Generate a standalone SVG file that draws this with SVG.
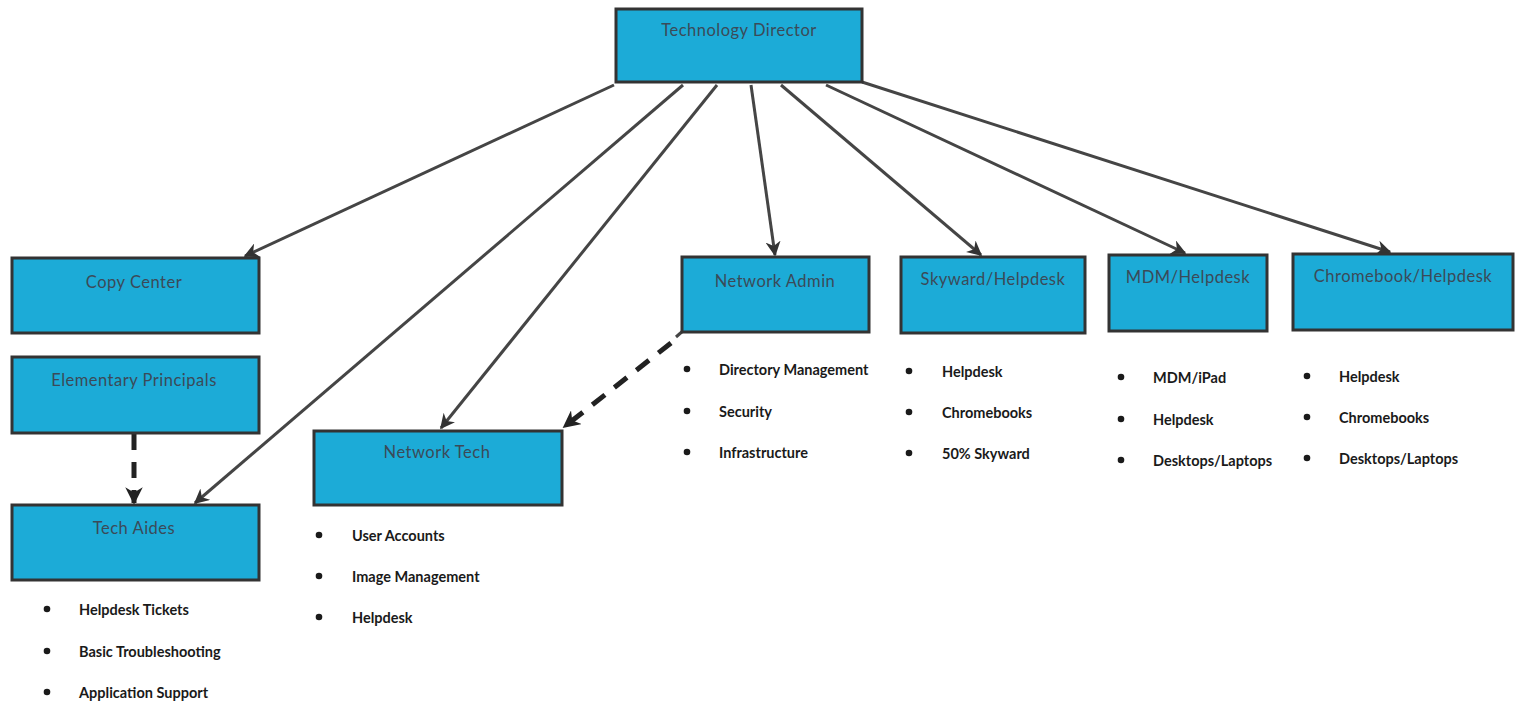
<svg xmlns="http://www.w3.org/2000/svg" width="1522" height="707" viewBox="0 0 1522 707">
<style>
.box{fill:#1cabd7;stroke:#333;stroke-width:3}
.lbl{font-family:Lato,"Liberation Sans",sans-serif;font-size:16.5px;letter-spacing:0.5px;fill:#3b4a58;text-anchor:middle;dominant-baseline:central}
.item{font-family:Lato,"Liberation Sans",sans-serif;font-size:14.5px;font-weight:bold;fill:#1a1a1a;dominant-baseline:central}
.dot{fill:#1a1a1a}
.ln{stroke:#454545;stroke-width:3;fill:none}
.dash{stroke:#222;stroke-width:5;stroke-dasharray:16 12;fill:none}
</style>
<defs>
<marker id="ah" viewBox="0 0 10 10" refX="9" refY="5" markerWidth="5" markerHeight="5" orient="auto" markerUnits="strokeWidth">
<path d="M0,0 L10,5 L0,10 L3,5 z" fill="#333"/>
</marker>
<marker id="ahd" viewBox="0 0 10 10" refX="9" refY="5" markerWidth="3.5" markerHeight="3.5" orient="auto" markerUnits="strokeWidth">
<path d="M0,0 L10,5 L0,10 L3,5 z" fill="#222"/>
</marker>
</defs>
<rect width="1522" height="707" fill="#fff"/>
<g id="connectors">
<line class="ln" x1="614" y1="85" x2="245" y2="256" marker-end="url(#ah)"/>
<line class="ln" x1="683" y1="85" x2="195" y2="503" marker-end="url(#ah)"/>
<line class="ln" x1="717" y1="85" x2="441" y2="428" marker-end="url(#ah)"/>
<line class="ln" x1="751" y1="85" x2="775" y2="255" marker-end="url(#ah)"/>
<line class="ln" x1="781" y1="85" x2="981" y2="255" marker-end="url(#ah)"/>
<line class="ln" x1="826" y1="85" x2="1185" y2="253" marker-end="url(#ah)"/>
<line class="ln" x1="862" y1="82" x2="1390" y2="252" marker-end="url(#ah)"/>
<line class="ln" x1="684" y1="330" x2="676" y2="337"/>
<line class="dash" x1="671" y1="343" x2="564" y2="427" marker-end="url(#ahd)"/>
<line class="dash" x1="134" y1="434" x2="134" y2="503" marker-end="url(#ahd)"/>
</g>
<g id="technology-director">
<rect class="box" x="616" y="9" width="246" height="73"/>
<text class="lbl" x="739" y="30">Technology Director</text>
</g>
<g id="copy-center">
<rect class="box" x="12" y="258" width="247" height="75"/>
<text class="lbl" x="134" y="282">Copy Center</text>
</g>
<g id="elementary-principals">
<rect class="box" x="12" y="357" width="247" height="76"/>
<text class="lbl" x="134" y="380">Elementary Principals</text>
</g>
<g id="tech-aides">
<rect class="box" x="12" y="505" width="247" height="75"/>
<text class="lbl" x="134" y="528">Tech Aides</text>
<circle class="dot" cx="47" cy="609" r="3.3"/><text class="item" x="79" y="609">Helpdesk Tickets</text>
<circle class="dot" cx="47" cy="651" r="3.3"/><text class="item" x="79" y="651">Basic Troubleshooting</text>
<circle class="dot" cx="47" cy="692" r="3.3"/><text class="item" x="79" y="692">Application Support</text>
</g>
<g id="network-tech">
<rect class="box" x="314" y="431" width="248" height="74"/>
<text class="lbl" x="437" y="452">Network Tech</text>
<circle class="dot" cx="319" cy="535" r="3.3"/><text class="item" x="352" y="535">User Accounts</text>
<circle class="dot" cx="319" cy="576" r="3.3"/><text class="item" x="352" y="576">Image Management</text>
<circle class="dot" cx="319" cy="617" r="3.3"/><text class="item" x="352" y="617">Helpdesk</text>
</g>
<g id="network-admin">
<rect class="box" x="682" y="257" width="187" height="75"/>
<text class="lbl" x="775" y="281">Network Admin</text>
<circle class="dot" cx="687" cy="369" r="3.3"/><text class="item" x="719" y="369">Directory Management</text>
<circle class="dot" cx="687" cy="411" r="3.3"/><text class="item" x="719" y="411">Security</text>
<circle class="dot" cx="687" cy="452" r="3.3"/><text class="item" x="719" y="452">Infrastructure</text>
</g>
<g id="skyward-helpdesk">
<rect class="box" x="901" y="257" width="184" height="76"/>
<text class="lbl" x="993" y="279">Skyward/Helpdesk</text>
<circle class="dot" cx="909" cy="371" r="3.3"/><text class="item" x="942" y="371">Helpdesk</text>
<circle class="dot" cx="909" cy="412" r="3.3"/><text class="item" x="942" y="412">Chromebooks</text>
<circle class="dot" cx="909" cy="453" r="3.3"/><text class="item" x="942" y="453">50% Skyward</text>
</g>
<g id="mdm-helpdesk">
<rect class="box" x="1109" y="255" width="158" height="76"/>
<text class="lbl" x="1188" y="277">MDM/Helpdesk</text>
<circle class="dot" cx="1121" cy="377" r="3.3"/><text class="item" x="1153" y="377">MDM/iPad</text>
<circle class="dot" cx="1121" cy="419" r="3.3"/><text class="item" x="1153" y="419">Helpdesk</text>
<circle class="dot" cx="1121" cy="460" r="3.3"/><text class="item" x="1153" y="460">Desktops/Laptops</text>
</g>
<g id="chromebook-helpdesk">
<rect class="box" x="1293" y="254" width="220" height="76"/>
<text class="lbl" x="1403" y="276">Chromebook/Helpdesk</text>
<circle class="dot" cx="1307" cy="376" r="3.3"/><text class="item" x="1339" y="376">Helpdesk</text>
<circle class="dot" cx="1307" cy="417" r="3.3"/><text class="item" x="1339" y="417">Chromebooks</text>
<circle class="dot" cx="1307" cy="458" r="3.3"/><text class="item" x="1339" y="458">Desktops/Laptops</text>
</g>
</svg>
